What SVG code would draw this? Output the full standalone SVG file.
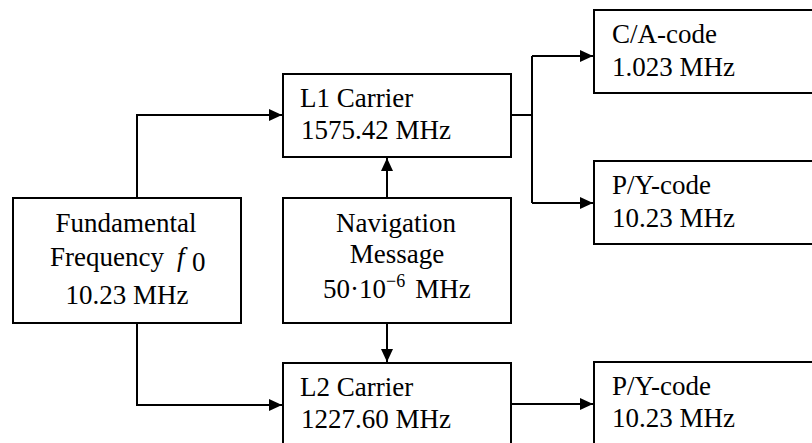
<svg xmlns="http://www.w3.org/2000/svg" width="812" height="443" viewBox="0 0 812 443">
<style>
.box{fill:#fff;stroke:#000;stroke-width:2}
.t{font-family:"Liberation Serif","Times New Roman",serif;font-size:27px;fill:#000}
.c{text-anchor:middle}
.ln{fill:none;stroke:#000;stroke-width:2}
</style>
<defs>
<marker id="ah" viewBox="0 0 13 12" refX="13" refY="6" markerWidth="13" markerHeight="12" markerUnits="userSpaceOnUse" orient="auto">
<path d="M0,0 L13,6 L0,12 Z" fill="#000"/>
</marker>
</defs>
<rect width="812" height="443" fill="#fff"/>
<g id="connectors">
<path class="ln" d="M137,198 V115 H282" marker-end="url(#ah)"/>
<path class="ln" d="M137,323 V405 H282" marker-end="url(#ah)"/>
<path class="ln" d="M387,198 V158" marker-end="url(#ah)"/>
<path class="ln" d="M387,323 V362" marker-end="url(#ah)"/>
<path class="ln" d="M511,115 H532"/>
<path class="ln" d="M532,56 V203"/>
<path class="ln" d="M532,56 H593" marker-end="url(#ah)"/>
<path class="ln" d="M532,203 H593" marker-end="url(#ah)"/>
<path class="ln" d="M511,404 H593" marker-end="url(#ah)"/>
</g>
<g id="fundamental">
<rect class="box" x="13" y="198" width="228" height="125"/>
<text class="t c" x="126" y="232">Fundamental</text>
<text class="t" x="50" y="266">Frequency</text>
<text class="t" x="177" y="266" font-style="italic">f</text>
<text class="t" x="192" y="271" font-size="17">0</text>
<text class="t c" x="127" y="304">10.23 MHz</text>
</g>
<g id="navigation">
<rect class="box" x="283" y="198" width="228" height="125"/>
<text class="t c" x="396" y="232">Navigation</text>
<text class="t c" x="397" y="263">Message</text>
<text class="t" x="323" y="298">50·10<tspan font-size="18" dy="-11">−6</tspan><tspan dy="11" dx="10">MHz</tspan></text>
</g>
<g id="l1">
<rect class="box" x="283" y="74" width="228" height="83"/>
<text class="t" x="300" y="107">L1 Carrier</text>
<text class="t" x="301" y="139">1575.42 MHz</text>
</g>
<g id="l2">
<rect class="box" x="283" y="363" width="228" height="100"/>
<text class="t" x="300" y="396">L2 Carrier</text>
<text class="t" x="301" y="428">1227.60 MHz</text>
</g>
<g id="ca">
<rect class="box" x="594" y="10" width="230" height="83"/>
<text class="t" x="612" y="43">C/A-code</text>
<text class="t" x="612" y="76">1.023 MHz</text>
</g>
<g id="py1">
<rect class="box" x="594" y="161" width="230" height="83"/>
<text class="t" x="612" y="194">P/Y-code</text>
<text class="t" x="612" y="227">10.23 MHz</text>
</g>
<g id="py2">
<rect class="box" x="594" y="362" width="230" height="100"/>
<text class="t" x="612" y="395">P/Y-code</text>
<text class="t" x="612" y="427">10.23 MHz</text>
</g>
</svg>
